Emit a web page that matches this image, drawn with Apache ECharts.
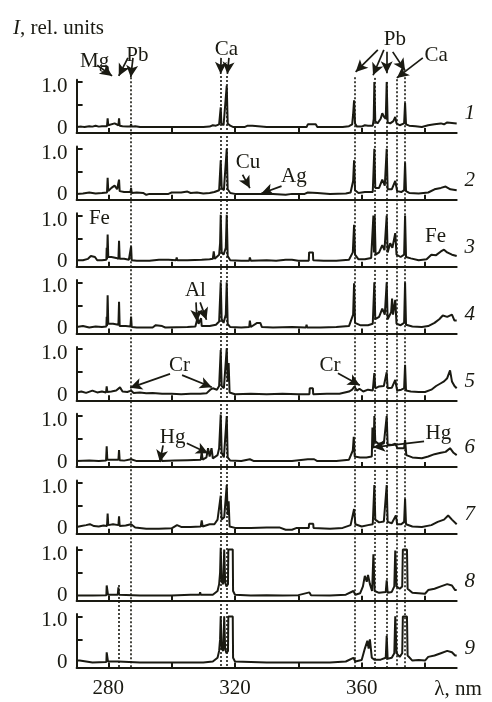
<!DOCTYPE html>
<html>
<head>
<meta charset="utf-8">
<script src="https://cdn.jsdelivr.net/npm/echarts@6/dist/echarts.min.js"></script>
<style>
html,body{margin:0;padding:0;background:#fff;}
#chart{width:492px;height:702px;}
</style>
</head>
<body>
<div id="chart"></div>
<script>
// ---------------- DATA ----------------
const xTicks = [280, 300, 320, 340, 360, 380];
const xLabels = [280, 320, 360];
const yTicks = [0, 0.5, 1.0];
const yLabels = [0, 1.0];
const panelNames = ['1','2','3','4','5','6','7','8','9'];

// spectra: flat lists  λ(nm), I(rel. units), ...
const p1 = [270,0.02, 271.5,0.03, 272.5,0.02, 274,0.04, 275,0.03, 276,0.05, 277,0.03, 278,0.04, 279.6,0.04, 279.8,0.21, 280.0,0.06, 280.5,0.1, 282,0.1, 282.6,0.08, 283.2,0.06, 283.4,0.21, 283.6,0.05, 284.5,0.04, 286,0.03, 287.0,0.03, 287.2,0.08, 287.4,0.03, 288.5,0.04, 290,0.02, 295,0.02, 300,0.02, 305,0.02, 310,0.02, 312,0.03, 313,0.06, 314,0.05, 315.0,0.08, 315.3,0.1, 315.5,0.45, 315.7,0.1, 316.4,0.06, 317.0,0.1, 317.4,0.92, 317.7,0.1, 318.5,0.05, 319.5,0.02, 323,0.02, 324,0.05, 325.5,0.05, 326,0.02, 330,0.02, 335,0.02, 340,0.02, 342.6,0.02, 343,0.08, 345.5,0.08, 346,0.02, 350,0.02, 354,0.02, 356,0.04, 357.0,0.08, 357.3,0.3, 357.6,0.6, 357.9,0.1, 358.5,0.03, 360,0.03, 361,0.06, 362,0.05, 363.5,0.05, 363.8,0.2, 364.0,1.0, 364.3,0.15, 365,0.1, 366,0.2, 366.5,0.32, 367,0.25, 367.6,0.2, 367.9,1.0, 368.2,0.12, 369,0.1, 370,0.15, 370.6,0.24, 371,0.1, 372,0.06, 373.4,0.1, 373.7,0.54, 374.0,0.08, 375,0.05, 377,0.04, 379,0.02, 381,0.06, 383,0.08, 385,0.1, 386,0.08, 387,0.12, 388.5,0.11, 390,0.1];
const p2 = [270,0.02, 272,0.03, 274,0.05, 276,0.03, 278,0.04, 279.6,0.05, 279.8,0.37, 280.0,0.08, 281,0.15, 282,0.2, 282.8,0.12, 283.2,0.1, 283.4,0.33, 283.6,0.08, 285,0.06, 287.0,0.06, 287.2,0.15, 287.4,0.04, 289,0.05, 291,0.04, 292,0.0, 293,0.02, 296,0.02, 299,0.02, 300,0.05, 303,0.05, 305,0.07, 306,0.04, 308,0.05, 310,0.03, 312,0.04, 313.5,0.06, 315.0,0.1, 315.5,0.75, 315.8,0.15, 316.5,0.1, 317.4,1.0, 317.7,0.12, 318.5,0.04, 320,0.02, 324.5,0.02, 324.7,0.06, 325,0.02, 327.5,0.02, 328,0.05, 328.5,0.02, 332,0.02, 336,0.0, 338,0.02, 342,0.02, 343,0.05, 346,0.04, 350,0.02, 355,0.03, 356.5,0.05, 357.3,0.3, 357.6,0.75, 357.9,0.1, 359,0.04, 361,0.06, 363.5,0.06, 364.0,1.0, 364.3,0.15, 365.5,0.15, 366.5,0.33, 367.3,0.2, 367.9,1.0, 368.2,0.12, 369.5,0.12, 370.6,0.3, 371.2,0.08, 372.5,0.06, 373.4,0.1, 373.7,0.7, 374.0,0.08, 375,0.04, 378,0.03, 381,0.05, 383,0.12, 385,0.15, 386.5,0.18, 388,0.12, 390,0.1];
const p3 = [270,0.03, 272,0.03, 273.6,0.06, 274.5,0.12, 275.8,0.1, 276.5,0.03, 278,0.03, 279.4,0.04, 279.5,0.3, 279.6,0.05, 279.8,0.59, 280.0,0.1, 281,0.1, 282.5,0.08, 283.2,0.06, 283.4,0.45, 283.6,0.06, 285,0.06, 286.5,0.04, 287.0,0.04, 287.2,0.33, 287.4,0.03, 289,0.02, 293,0.02, 296,0.04, 299,0.04, 301.4,0.03, 301.6,0.09, 301.8,0.03, 305,0.03, 309.5,0.04, 312,0.05, 313.0,0.06, 313.3,0.22, 313.6,0.06, 315.0,0.15, 315.3,0.4, 315.5,1.02, 315.8,0.2, 316.4,0.15, 317.1,0.3, 317.4,1.02, 317.7,0.12, 318.5,0.03, 322,0.02, 324.5,0.02, 324.7,0.09, 325,0.02, 330,0.03, 333,0.02, 336,0.04, 338,0.04, 340,0.02, 343.3,0.02, 343.4,0.2, 344.6,0.2, 344.7,0.03, 348,0.02, 352,0.02, 356,0.04, 357.2,0.2, 357.6,0.8, 357.9,0.15, 359,0.05, 361,0.05, 363,0.08, 363.7,1.0, 363.9,0.2, 364.1,1.0, 364.4,0.15, 365.5,0.2, 366.5,0.36, 367.2,0.25, 367.9,1.0, 368.2,0.2, 369,0.4, 369.7,0.3, 370.6,0.62, 371,0.15, 372.3,0.1, 373.4,0.15, 373.7,1.0, 374,0.1, 375.5,0.07, 378,0.03, 380.5,0.05, 382,0.15, 383.5,0.14, 385,0.22, 386,0.26, 387,0.2, 388.5,0.15, 390,0.12];
const p4 = [270,0.03, 272,0.05, 274,0.02, 276,0.04, 278,0.03, 279.4,0.04, 279.5,0.25, 279.6,0.05, 279.8,0.72, 280.0,0.1, 281.5,0.1, 283.2,0.08, 283.4,0.58, 283.6,0.05, 285.5,0.05, 287.0,0.04, 287.2,0.26, 287.4,0.03, 289,0.02, 294,0.02, 295,0.07, 297,0.05, 298,0.02, 305,0.03, 307.5,0.04, 308.0,0.08, 308.2,0.24, 308.5,0.1, 309.1,0.1, 309.3,0.22, 309.5,0.05, 312,0.05, 314,0.08, 315.0,0.15, 315.5,1.0, 315.8,0.2, 316.4,0.12, 317.1,0.3, 317.4,1.0, 317.7,0.1, 318.5,0.03, 322,0.02, 324.5,0.03, 324.7,0.17, 325,0.03, 327,0.12, 328,0.12, 328.5,0.03, 332,0.02, 338,0.03, 342.4,0.02, 342.6,0.08, 342.8,0.02, 347,0.02, 352,0.03, 356,0.05, 357.3,0.3, 357.6,0.98, 357.9,0.12, 359.5,0.07, 362,0.07, 363.5,0.1, 364.0,1.0, 364.3,0.2, 365.5,0.25, 366.5,0.43, 367.3,0.3, 367.9,1.0, 368.2,0.2, 369.3,0.35, 369.6,0.65, 369.9,0.3, 370.6,0.62, 371,0.1, 372.3,0.07, 373.4,0.12, 373.7,1.0, 374,0.08, 376,0.04, 379,0.03, 381,0.05, 383,0.12, 384.5,0.2, 385.6,0.28, 387,0.25, 388.5,0.3, 389.3,0.17, 390,0.17];
const p5 = [270,0.06, 271.5,0.08, 273,0.05, 275,0.1, 276.5,0.06, 278,0.08, 279.3,0.06, 279.5,0.19, 279.7,0.07, 281,0.08, 282.5,0.1, 283.7,0.17, 284.5,0.08, 286,0.07, 287.2,0.1, 288,0.05, 290,0.06, 292,0.04, 294,0.05, 297,0.03, 300,0.03, 303,0.02, 306,0.03, 309,0.03, 311,0.04, 312.2,0.12, 313,0.15, 314.3,0.12, 315.0,0.2, 315.5,0.98, 315.8,0.2, 316.5,0.15, 317.4,1.02, 317.7,0.3, 318.0,0.7, 318.3,0.06, 320,0.02, 325,0.03, 330,0.02, 335,0.03, 340,0.02, 343.5,0.02, 343.6,0.15, 344.6,0.15, 344.7,0.02, 349,0.03, 353,0.03, 356,0.08, 357.0,0.12, 357.7,0.19, 358.5,0.1, 359.3,0.14, 360.5,0.08, 362,0.12, 363.5,0.1, 364.0,0.48, 364.3,0.15, 365.5,0.19, 367,0.2, 367.9,0.5, 368.2,0.15, 369.5,0.16, 370.6,0.33, 371.2,0.1, 372.5,0.12, 373.4,0.15, 373.7,0.66, 374,0.1, 375.5,0.08, 378,0.07, 380,0.07, 382,0.12, 383.5,0.2, 385,0.26, 386,0.3, 387,0.37, 387.9,0.54, 388.5,0.3, 389.3,0.2, 390,0.15];
const p6 = [270,0.02, 274,0.03, 277,0.02, 279.3,0.03, 279.5,0.34, 279.7,0.05, 281,0.05, 283.2,0.05, 283.4,0.26, 283.6,0.04, 285,0.03, 287.2,0.06, 289,0.02, 294,0.02, 296.4,0.02, 296.7,0.08, 297,0.02, 301,0.03, 305,0.04, 309.2,0.05, 309.5,0.22, 309.8,0.05, 311,0.1, 311.5,0.3, 312,0.12, 312.6,0.3, 313,0.08, 314.5,0.15, 315.0,0.3, 315.5,1.03, 315.8,0.2, 316.5,0.1, 317.4,1.0, 317.7,0.1, 318.5,0.03, 322,0.02, 324.7,0.06, 326,0.02, 332,0.02, 338,0.02, 343,0.06, 345,0.06, 346,0.02, 352,0.02, 356,0.05, 357.2,0.25, 357.5,0.55, 357.8,0.12, 359.5,0.1, 361.5,0.1, 363.2,0.12, 363.4,0.75, 363.6,0.3, 363.8,0.4, 364.0,1.0, 364.3,0.45, 365,0.41, 366,0.4, 367,0.4, 367.9,1.0, 368.2,0.38, 369.5,0.37, 370.6,0.4, 371.3,0.3, 372.5,0.3, 373.4,0.3, 373.7,0.48, 374.1,0.15, 376,0.1, 379,0.08, 381,0.12, 383,0.17, 385,0.2, 386.5,0.22, 387.9,0.3, 389,0.2, 390,0.15];
const p7 = [270,0.04, 271.5,0.06, 273,0.08, 274.2,0.1, 275.5,0.06, 277,0.05, 278.5,0.07, 279.6,0.06, 279.8,0.33, 280.0,0.08, 281.5,0.1, 283.2,0.08, 283.4,0.27, 283.6,0.06, 285.5,0.07, 287.2,0.1, 288.5,0.03, 292,0.0, 296,0.0, 300,0.01, 301.7,0.08, 303,0.04, 306,0.04, 309.2,0.05, 309.5,0.18, 309.8,0.05, 312,0.1, 313.5,0.1, 314.5,0.2, 315.5,0.72, 315.8,0.2, 316.6,0.25, 317.4,0.95, 317.7,0.3, 318.0,0.6, 318.3,0.05, 320,0.02, 325,0.02, 330,0.03, 334,0.03, 336,-0.02, 338,-0.02, 339.5,0.02, 343.3,0.02, 343.4,0.11, 344.7,0.11, 344.8,0.02, 350,0.0, 354,0.02, 356.5,0.08, 357.6,0.43, 358,0.1, 360,0.05, 362,0.08, 363.5,0.1, 364.0,0.95, 364.3,0.2, 365.5,0.14, 367,0.16, 367.9,0.95, 368.2,0.15, 369.5,0.12, 370.8,0.29, 371.2,0.1, 372.5,0.1, 373.4,0.15, 373.7,0.65, 374,0.1, 376,0.05, 379,0.04, 382,0.08, 384,0.15, 386,0.2, 387.3,0.29, 388.5,0.2, 390,0.1];
const p8 = [270,0.0, 275,0.0, 279.4,0.01, 279.5,0.22, 279.8,0.2, 279.9,0.02, 283.0,0.02, 283.2,0.18, 283.4,0.02, 290,0.0, 300,0.0, 306,0.02, 308.8,0.02, 309,0.07, 309.2,0.02, 313,0.02, 314.5,0.1, 315.0,0.25, 315.3,0.5, 315.5,1.04, 315.8,0.3, 316.3,0.25, 316.6,1.0, 316.9,0.3, 317.3,0.2, 317.8,0.25, 317.9,1.0, 319.3,1.0, 319.4,0.1, 320,0.02, 325,0.0, 330,0.01, 335,0.0, 340,0.01, 343.5,0.07, 344,0.01, 350,0.0, 355,0.02, 357.4,0.1, 358,0.02, 359.5,0.05, 360.4,0.2, 361,0.43, 361.6,0.3, 362,0.45, 362.6,0.25, 363.3,0.1, 363.7,0.9, 364.1,0.1, 365.5,0.06, 367.6,0.08, 367.9,0.33, 368.2,0.06, 369.5,0.08, 370.3,0.2, 370.6,0.98, 371,0.2, 372,0.15, 372.8,0.2, 373.0,1.0, 374.3,1.0, 374.5,0.15, 376,0.06, 378,0.05, 380,0.04, 381,0.12, 383,0.15, 385,0.2, 387,0.25, 388.5,0.22, 389.5,0.12, 390,0.12];
const p9 = [270,0.04, 271,0.04, 271.5,0.0, 275,0.0, 279.4,0.01, 279.5,0.22, 279.8,0.2, 279.9,0.02, 283.1,0.02, 283.2,0.05, 283.3,0.02, 290,0.0, 300,0.0, 310,0.0, 313,0.02, 314.5,0.1, 315.0,0.25, 315.3,0.5, 315.5,1.0, 315.8,0.3, 316.3,0.25, 316.6,1.0, 316.9,0.3, 317.3,0.2, 317.8,0.25, 317.9,1.0, 319.3,1.0, 319.4,0.1, 320,0.02, 330,0.0, 340,0.0, 350,0.0, 355,0.02, 357.4,0.1, 358,0.02, 360,0.05, 361,0.3, 361.8,0.47, 362.2,0.3, 362.6,0.5, 363.2,0.1, 364,0.06, 366,0.06, 367.6,0.1, 367.9,0.58, 368.2,0.08, 369.5,0.1, 370.3,0.2, 370.6,1.0, 371,0.2, 372,0.12, 372.8,0.2, 373.0,1.0, 374.3,1.0, 374.5,0.15, 376,0.04, 378,0.05, 380,0.04, 381,0.12, 383,0.15, 385,0.2, 387,0.25, 388.5,0.22, 389.5,0.15, 390,0.15];
const spectra = [p1, p2, p3, p4, p5, p6, p7, p8, p9];

// dotted guide lines: [λ, from panel-position, to panel-position] (panel k zero line = k)
const dottedLines = [
  [283.2, 7.84, 9.07], [287.2, 0.24, 9.07], [315.5, 0.22, 9.07], [317.4, 0.22, 9.07],
  [357.7, 0.24, 9.07], [364.0, 0.25, 9.07], [367.9, 0.31, 9.07], [371.0, 0.27, 9.07], [373.7, 0.24, 9.07]
];
// element labels: [λ, panel-position, text]
const elementLabels = [
  [275.7, 0.01, 'Mg'], [289.2, -0.08, 'Pb'], [317.3, -0.17, 'Ca'], [370.5, -0.33, 'Pb'], [383.5, -0.09, 'Ca'],
  [324.1, 1.52, 'Cu'], [338.6, 1.73, 'Ag'], [277.2, 2.35, 'Fe'], [383.3, 2.63, 'Fe'], [307.5, 3.43, 'Al'],
  [302.5, 4.55, 'Cr'], [350.0, 4.55, 'Cr'], [300.3, 5.63, 'Hg'], [384.2, 5.58, 'Hg']
];
// arrows: [λ from, pos from, λ to, pos to]
const arrows = [
  [276.5, 0.06, 281.2, 0.22], [286.2, -0.05, 283.3, 0.22], [287.8, -0.05, 287.1, 0.24],
  [315.6, -0.05, 315.5, 0.19], [318.1, -0.05, 317.6, 0.19],
  [365.1, -0.17, 358.1, 0.16], [367.0, -0.17, 363.6, 0.21], [367.9, -0.14, 367.9, 0.18], [369.8, -0.14, 373.7, 0.14],
  [379.3, -0.05, 371.1, 0.25],
  [322.4, 1.70, 324.7, 1.90], [334.7, 1.87, 328.3, 1.98],
  [307.7, 3.61, 308.0, 3.90], [309.0, 3.61, 311.0, 3.87],
  [299.5, 4.68, 286.9, 4.89], [303.3, 4.70, 312.7, 4.88], [352.5, 4.67, 359.4, 4.85],
  [297.3, 5.75, 296.3, 6.00], [304.8, 5.72, 311.5, 5.87], [379.7, 5.69, 363.6, 5.78]
];
const panelLabelPos = [394.1, -0.21]; // λ, offset from panel zero
const axisNamePos = [390.4, 9.41];

// ---------------- LAYOUT ----------------
const W = 492, H = 702;
const X0 = 76.6, PX_NM = 3.1675, LMIN = 270, LMAX = 390;
const Z1 = 128, DZ = 66.8, PX_I = 46, YMIN = -0.11, YMAX = 1.05;
const INK = '#1a1a12';
const FONT = "'Liberation Serif','Times New Roman',serif";
const FS = 21;

const grids = [], xAxes = [], yAxes = [], series = [];
for (let k = 0; k < 9; k++) {
  const z = Z1 + k * DZ;
  grids.push({left: X0, width: (LMAX - LMIN) * PX_NM, top: z - YMAX * PX_I, height: (YMAX - YMIN) * PX_I});
  xAxes.push({
    type: 'value', gridIndex: k, min: LMIN, max: LMAX,
    axisLine: {show: true, onZero: false, lineStyle: {color: INK, width: 2}},
    axisTick: {show: true, inside: true, length: 5, customValues: xTicks, lineStyle: {color: INK, width: 2}},
    axisLabel: {show: k === 8, customValues: xLabels, color: INK, fontFamily: FONT, fontSize: FS, margin: 11},
    splitLine: {show: false}
  });
  yAxes.push({
    type: 'value', gridIndex: k, min: YMIN, max: YMAX,
    axisLine: {show: true, onZero: false, lineStyle: {color: INK, width: 2}},
    axisTick: {show: true, inside: true, length: 6, customValues: yTicks.filter(v => v > 0), lineStyle: {color: INK, width: 2}},
    axisLabel: {show: true, customValues: yLabels, color: INK, fontFamily: FONT, fontSize: FS, margin: 9,
      formatter: v => v === 1 ? '{a|1.0}' : '0',
      rich: {a: {fontFamily: FONT, fontSize: FS, color: INK, padding: [9, 0, 0, 0]}}},
    splitLine: {show: false}
  });
  const arr = spectra[k], pts = [];
  for (let i = 0; i < arr.length; i += 2) pts.push([arr[i], arr[i + 1]]);
  series.push({
    type: 'line', xAxisIndex: k, yAxisIndex: k, data: pts, symbol: 'none', showSymbol: false,
    lineStyle: {color: INK, width: 2}, animation: false, silent: true
  });
}
// overlay coordinate system over the whole picture: x in nm, y in panel positions
grids.push({left: 0, top: 0, width: W, height: H});
xAxes.push({type: 'value', gridIndex: 9, show: false, min: LMIN - X0 / PX_NM, max: LMIN + (W - X0) / PX_NM});
yAxes.push({type: 'value', gridIndex: 9, show: false, inverse: true, min: 1 - Z1 / DZ, max: 1 + (H - Z1) / DZ});

const labelData = elementLabels.map(d => ({value: [d[0], d[1], d[2]]}));
panelNames.forEach((n, i) => labelData.push({value: [panelLabelPos[0], i + 1 + panelLabelPos[1], n], label: {fontStyle: 'italic'}}));
labelData.push({value: [axisNamePos[0], axisNamePos[1], 'λ, nm']});

series.push({
  type: 'scatter', xAxisIndex: 9, yAxisIndex: 9, clip: false, silent: true, animation: false,
  symbolSize: 0, itemStyle: {color: INK, opacity: 1},
  label: {show: true, position: [0, 0], align: 'center', verticalAlign: 'middle', formatter: p => p.value[2],
    color: INK, opacity: 1, textBorderWidth: 0, fontFamily: FONT, fontSize: FS},
  data: labelData,
  markLine: {
    silent: true, animation: false, symbol: ['none', 'arrow'], symbolSize: [9, 12], precision: 4,
    label: {show: false}, lineStyle: {color: INK, width: 1.7, type: 'solid', opacity: 1},
    data: arrows.map(a => [{coord: [a[0], a[1]]}, {coord: [a[2], a[3]]}])
  }
});
series.push({
  type: 'scatter', xAxisIndex: 9, yAxisIndex: 9, clip: false, silent: true, animation: false,
  symbolSize: 0, itemStyle: {color: INK},
  data: dottedLines.map(d => [d[0], d[1]]),
  markLine: {
    silent: true, animation: false, symbol: ['none', 'none'], precision: 4,
    label: {show: false}, lineStyle: {color: INK, width: 1.6, type: [2, 2], opacity: 1},
    data: dottedLines.map(d => [{coord: [d[0], d[1]]}, {coord: [d[0], d[2]]}])
  }
});

const chart = echarts.init(document.getElementById('chart'), null, {renderer: 'canvas'});
chart.setOption({
  animation: false,
  backgroundColor: '#fff',
  title: {
    left: 8, top: 13,
    text: '{i|I}, rel. units',
    textStyle: {fontFamily: FONT, fontSize: FS, fontWeight: 'normal', color: INK,
      rich: {i: {fontFamily: FONT, fontSize: FS, fontStyle: 'italic', color: INK}}}
  },
  grid: grids, xAxis: xAxes, yAxis: yAxes, series: series
});
</script>
</body>
</html>
